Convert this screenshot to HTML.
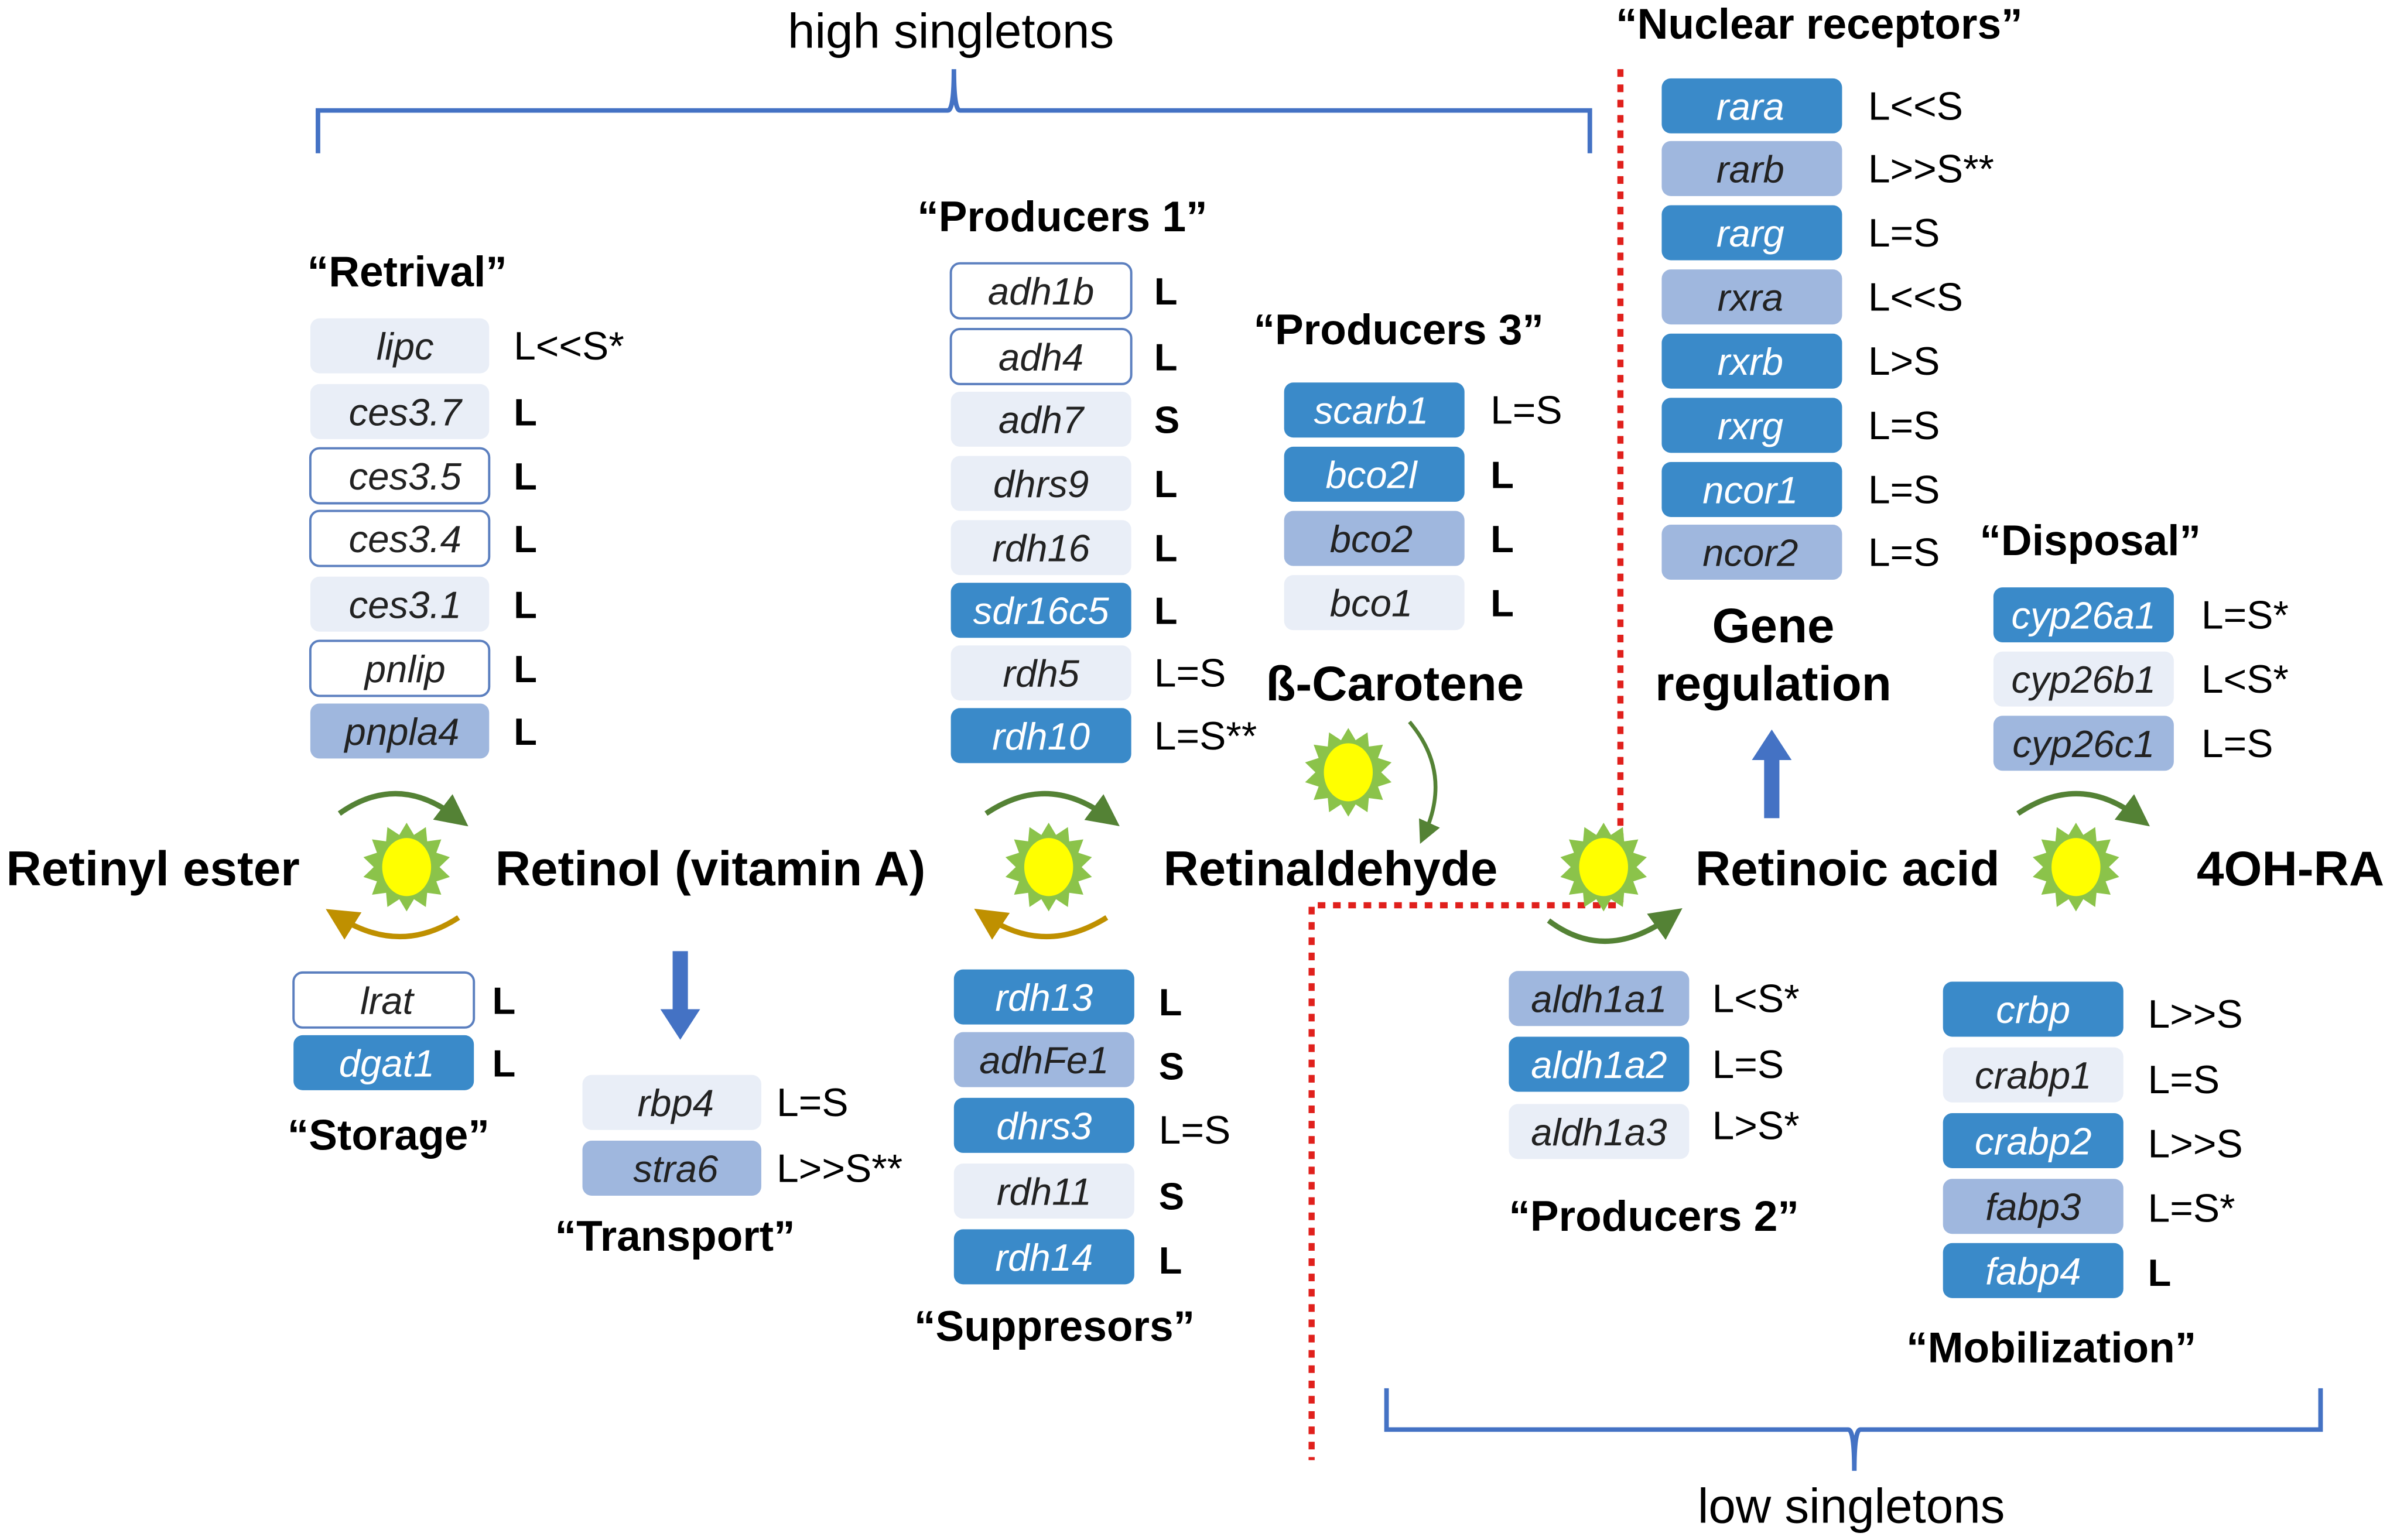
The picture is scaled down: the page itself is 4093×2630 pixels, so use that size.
<!DOCTYPE html>
<html><head><meta charset="utf-8"><style>
html,body{margin:0;padding:0;background:#fff}
svg{display:block}
text{font-family:"Liberation Sans",Arial,sans-serif}
.g{font-style:italic;font-size:25px;text-anchor:middle}
.w{fill:#fff}
.k{fill:#222}
.lb{font-size:25px;font-weight:bold}
.ln{font-size:26px}
.h{font-size:28px;font-weight:bold}
.m{font-size:32px;font-weight:bold}
</style></head><body>
<svg width="4093" height="2630" viewBox="0 0 1568 1007" xmlns="http://www.w3.org/2000/svg">
<defs>
<path id="tri" d="M0,-29 L6,-19 L-6,-19 Z" fill="#8bc34a"/>
<g id="sun">
<use href="#tri"/><use href="#tri" transform="rotate(25.7)"/><use href="#tri" transform="rotate(51.4)"/><use href="#tri" transform="rotate(77.1)"/><use href="#tri" transform="rotate(102.9)"/><use href="#tri" transform="rotate(128.6)"/><use href="#tri" transform="rotate(154.3)"/><use href="#tri" transform="rotate(180)"/><use href="#tri" transform="rotate(205.7)"/><use href="#tri" transform="rotate(231.4)"/><use href="#tri" transform="rotate(257.1)"/><use href="#tri" transform="rotate(282.9)"/><use href="#tri" transform="rotate(308.6)"/><use href="#tri" transform="rotate(334.3)"/>
<circle r="21" fill="#8bc34a"/>
<ellipse rx="16" ry="19" fill="#ffff00"/>
</g>
<marker id="ag" markerWidth="6" markerHeight="6" refX="3" refY="3" orient="auto" markerUnits="strokeWidth"><path d="M0,0 L6,3 L0,6 z" fill="#548235"/></marker>
<marker id="ab" markerWidth="6" markerHeight="6" refX="3" refY="3" orient="auto" markerUnits="strokeWidth"><path d="M0,0 L6,3 L0,6 z" fill="#bf9000"/></marker>
</defs>

<path d="M208,100 V72 H620 Q624,72 624,45 Q624,72 628,72 H1040 V100" fill="none" stroke="#4472c4" stroke-width="3"/>
<text x="622" y="31" font-size="32" text-anchor="middle">high singletons</text>
<path d="M907,908 V935 H1209 Q1213,935 1213,962 Q1213,935 1217,935 H1518 V908" fill="none" stroke="#4472c4" stroke-width="3"/>
<text x="1211" y="996" font-size="32" text-anchor="middle">low singletons</text>

<path d="M1060,45 V592 H858 V955" fill="none" stroke="#e0201c" stroke-width="4" stroke-dasharray="5 5"/>

<text class="h" x="201" y="187">“Retrival”</text>
<text class="h" x="600" y="151">“Producers 1”</text>
<text class="h" x="820" y="225">“Producers 3”</text>
<text class="h" x="1057" y="25">“Nuclear receptors”</text>
<text class="h" x="1295" y="363">“Disposal”</text>
<text class="h" x="188" y="752">“Storage”</text>
<text class="h" x="363" y="818">“Transport”</text>
<text class="h" x="598" y="877">“Suppresors”</text>
<text class="h" x="987" y="805">“Producers 2”</text>
<text class="h" x="1247" y="891">“Mobilization”</text>

<text class="m" x="4" y="579">Retinyl ester</text>
<text class="m" x="324" y="579">Retinol (vitamin A)</text>
<text class="m" x="761" y="579">Retinaldehyde</text>
<text class="m" x="1109" y="579">Retinoic acid</text>
<text class="m" x="1437" y="579">4OH-RA</text>
<text class="m" x="828" y="458">ß-Carotene</text>
<text class="m" x="1160" y="420" text-anchor="middle">Gene</text>
<text class="m" x="1160" y="458" text-anchor="middle">regulation</text>

<use href="#sun" x="266" y="567"/>
<use href="#sun" x="686" y="567"/>
<use href="#sun" x="882" y="505"/>
<use href="#sun" x="1049" y="567"/>
<use href="#sun" x="1358" y="567"/>

<path d="M222,532 Q260,505 298,534" fill="none" stroke="#548235" stroke-width="3.5" marker-end="url(#ag)"/>
<path d="M300,600 Q262,625 222,600" fill="none" stroke="#bf9000" stroke-width="3.5" marker-end="url(#ab)"/>
<path d="M645,532 Q685,505 724,534" fill="none" stroke="#548235" stroke-width="3.5" marker-end="url(#ag)"/>
<path d="M724,600 Q684,625 646,600" fill="none" stroke="#bf9000" stroke-width="3.5" marker-end="url(#ab)"/>
<path d="M1320,532 Q1360,505 1398,534" fill="none" stroke="#548235" stroke-width="3.5" marker-end="url(#ag)"/>
<path d="M1013,602 Q1050,630 1092,600" fill="none" stroke="#548235" stroke-width="3.5" marker-end="url(#ag)"/>
<path d="M922,472 Q950,505 932,545" fill="none" stroke="#548235" stroke-width="2.5" marker-end="url(#ag)"/>
<path d="M440,622 H450 V660 H458 L445,680 L432,660 H440 Z" fill="#4472c4"/>
<path d="M1154,535 H1164 V497 H1172 L1159,477 L1146,497 H1154 Z" fill="#4472c4"/>

<g stroke-width="1.5">
<rect x="203" y="208" width="117" height="36" rx="6" fill="#e9eef7"/>
<rect x="203" y="251" width="117" height="36" rx="6" fill="#e9eef7"/>
<rect x="203" y="293" width="117" height="36" rx="6" fill="#fff" stroke="#5b7fbf"/>
<rect x="203" y="334" width="117" height="36" rx="6" fill="#fff" stroke="#5b7fbf"/>
<rect x="203" y="377" width="117" height="36" rx="6" fill="#e9eef7"/>
<rect x="203" y="419" width="117" height="36" rx="6" fill="#fff" stroke="#5b7fbf"/>
<rect x="203" y="460" width="117" height="36" rx="6" fill="#9fb7de"/>
<rect x="622" y="172" width="118" height="36" rx="6" fill="#fff" stroke="#5b7fbf"/>
<rect x="622" y="215" width="118" height="36" rx="6" fill="#fff" stroke="#5b7fbf"/>
<rect x="622" y="256" width="118" height="36" rx="6" fill="#e9eef7"/>
<rect x="622" y="298" width="118" height="36" rx="6" fill="#e9eef7"/>
<rect x="622" y="340" width="118" height="36" rx="6" fill="#e9eef7"/>
<rect x="622" y="381" width="118" height="36" rx="6" fill="#3a8ac9"/>
<rect x="622" y="422" width="118" height="36" rx="6" fill="#e9eef7"/>
<rect x="622" y="463" width="118" height="36" rx="6" fill="#3a8ac9"/>
<rect x="840" y="250" width="118" height="36" rx="6" fill="#3a8ac9"/>
<rect x="840" y="292" width="118" height="36" rx="6" fill="#3a8ac9"/>
<rect x="840" y="334" width="118" height="36" rx="6" fill="#9fb7de"/>
<rect x="840" y="376" width="118" height="36" rx="6" fill="#e9eef7"/>
<rect x="1087" y="51" width="118" height="36" rx="6" fill="#3a8ac9"/>
<rect x="1087" y="92" width="118" height="36" rx="6" fill="#9fb7de"/>
<rect x="1087" y="134" width="118" height="36" rx="6" fill="#3a8ac9"/>
<rect x="1087" y="176" width="118" height="36" rx="6" fill="#9fb7de"/>
<rect x="1087" y="218" width="118" height="36" rx="6" fill="#3a8ac9"/>
<rect x="1087" y="260" width="118" height="36" rx="6" fill="#3a8ac9"/>
<rect x="1087" y="302" width="118" height="36" rx="6" fill="#3a8ac9"/>
<rect x="1087" y="343" width="118" height="36" rx="6" fill="#9fb7de"/>
<rect x="1304" y="384" width="118" height="36" rx="6" fill="#3a8ac9"/>
<rect x="1304" y="426" width="118" height="36" rx="6" fill="#e9eef7"/>
<rect x="1304" y="468" width="118" height="36" rx="6" fill="#9fb7de"/>
<rect x="192" y="636" width="118" height="36" rx="6" fill="#fff" stroke="#5b7fbf"/>
<rect x="192" y="677" width="118" height="36" rx="6" fill="#3a8ac9"/>
<rect x="381" y="703" width="117" height="36" rx="6" fill="#e9eef7"/>
<rect x="381" y="746" width="117" height="36" rx="6" fill="#9fb7de"/>
<rect x="624" y="634" width="118" height="36" rx="6" fill="#3a8ac9"/>
<rect x="624" y="675" width="118" height="36" rx="6" fill="#9fb7de"/>
<rect x="624" y="718" width="118" height="36" rx="6" fill="#3a8ac9"/>
<rect x="624" y="761" width="118" height="36" rx="6" fill="#e9eef7"/>
<rect x="624" y="804" width="118" height="36" rx="6" fill="#3a8ac9"/>
<rect x="987" y="635" width="118" height="36" rx="6" fill="#9fb7de"/>
<rect x="987" y="678" width="118" height="36" rx="6" fill="#3a8ac9"/>
<rect x="987" y="722" width="118" height="36" rx="6" fill="#e9eef7"/>
<rect x="1271" y="642" width="118" height="36" rx="6" fill="#3a8ac9"/>
<rect x="1271" y="685" width="118" height="36" rx="6" fill="#e9eef7"/>
<rect x="1271" y="728" width="118" height="36" rx="6" fill="#3a8ac9"/>
<rect x="1271" y="771" width="118" height="36" rx="6" fill="#9fb7de"/>
<rect x="1271" y="813" width="118" height="36" rx="6" fill="#3a8ac9"/>
</g>

<g class="g">
<text class="k" x="265" y="235">lipc</text>
<text class="k" x="265" y="278">ces3.7</text>
<text class="k" x="265" y="320">ces3.5</text>
<text class="k" x="265" y="361">ces3.4</text>
<text class="k" x="265" y="404">ces3.1</text>
<text class="k" x="265" y="446">pnlip</text>
<text class="k" x="263" y="487">pnpla4</text>
<text class="k" x="681" y="199">adh1b</text>
<text class="k" x="681" y="242">adh4</text>
<text class="k" x="681" y="283">adh7</text>
<text class="k" x="681" y="325">dhrs9</text>
<text class="k" x="681" y="367">rdh16</text>
<text class="w" x="681" y="408">sdr16c5</text>
<text class="k" x="681" y="449">rdh5</text>
<text class="w" x="681" y="490">rdh10</text>
<text class="w" x="897" y="277">scarb1</text>
<text class="w" x="897" y="319">bco2l</text>
<text class="k" x="897" y="361">bco2</text>
<text class="k" x="897" y="403">bco1</text>
<text class="w" x="1145" y="78">rara</text>
<text class="k" x="1145" y="119">rarb</text>
<text class="w" x="1145" y="161">rarg</text>
<text class="k" x="1145" y="203">rxra</text>
<text class="w" x="1145" y="245">rxrb</text>
<text class="w" x="1145" y="287">rxrg</text>
<text class="w" x="1145" y="329">ncor1</text>
<text class="k" x="1145" y="370">ncor2</text>
<text class="w" x="1363" y="411">cyp26a1</text>
<text class="k" x="1363" y="453">cyp26b1</text>
<text class="k" x="1363" y="495">cyp26c1</text>
<text class="k" x="253" y="663">lrat</text>
<text class="w" x="253" y="704">dgat1</text>
<text class="k" x="442" y="730">rbp4</text>
<text class="k" x="442" y="773">stra6</text>
<text class="w" x="683" y="661">rdh13</text>
<text class="k" x="683" y="702">adhFe1</text>
<text class="w" x="683" y="745">dhrs3</text>
<text class="k" x="683" y="788">rdh11</text>
<text class="w" x="683" y="831">rdh14</text>
<text class="k" x="1046" y="662">aldh1a1</text>
<text class="w" x="1046" y="705">aldh1a2</text>
<text class="k" x="1046" y="749">aldh1a3</text>
<text class="w" x="1330" y="669">crbp</text>
<text class="k" x="1330" y="712">crabp1</text>
<text class="w" x="1330" y="755">crabp2</text>
<text class="k" x="1330" y="798">fabp3</text>
<text class="w" x="1330" y="840">fabp4</text>
</g>

<text class="ln" x="336" y="235">L&lt;&lt;S*</text>
<text class="lb" x="336" y="278">L</text>
<text class="lb" x="336" y="320">L</text>
<text class="lb" x="336" y="361">L</text>
<text class="lb" x="336" y="404">L</text>
<text class="lb" x="336" y="446">L</text>
<text class="lb" x="336" y="487">L</text>
<text class="lb" x="755" y="199">L</text>
<text class="lb" x="755" y="242">L</text>
<text class="lb" x="755" y="283">S</text>
<text class="lb" x="755" y="325">L</text>
<text class="lb" x="755" y="367">L</text>
<text class="lb" x="755" y="408">L</text>
<text class="ln" x="755" y="449">L=S</text>
<text class="ln" x="755" y="490">L=S**</text>
<text class="ln" x="975" y="277">L=S</text>
<text class="lb" x="975" y="319">L</text>
<text class="lb" x="975" y="361">L</text>
<text class="lb" x="975" y="403">L</text>
<text class="ln" x="1222" y="78">L&lt;&lt;S</text>
<text class="ln" x="1222" y="119">L&gt;&gt;S**</text>
<text class="ln" x="1222" y="161">L=S</text>
<text class="ln" x="1222" y="203">L&lt;&lt;S</text>
<text class="ln" x="1222" y="245">L&gt;S</text>
<text class="ln" x="1222" y="287">L=S</text>
<text class="ln" x="1222" y="329">L=S</text>
<text class="ln" x="1222" y="370">L=S</text>
<text class="ln" x="1440" y="411">L=S*</text>
<text class="ln" x="1440" y="453">L&lt;S*</text>
<text class="ln" x="1440" y="495">L=S</text>
<text class="lb" x="322" y="663">L</text>
<text class="lb" x="322" y="704">L</text>
<text class="ln" x="508" y="730">L=S</text>
<text class="ln" x="508" y="773">L&gt;&gt;S**</text>
<text class="lb" x="758" y="664">L</text>
<text class="lb" x="758" y="706">S</text>
<text class="ln" x="758" y="748">L=S</text>
<text class="lb" x="758" y="791">S</text>
<text class="lb" x="758" y="833">L</text>
<text class="ln" x="1120" y="662">L&lt;S*</text>
<text class="ln" x="1120" y="705">L=S</text>
<text class="ln" x="1120" y="745">L&gt;S*</text>
<text class="ln" x="1405" y="672">L&gt;&gt;S</text>
<text class="ln" x="1405" y="715">L=S</text>
<text class="ln" x="1405" y="757">L&gt;&gt;S</text>
<text class="ln" x="1405" y="799">L=S*</text>
<text class="lb" x="1405" y="841">L</text>
</svg>
</body></html>
